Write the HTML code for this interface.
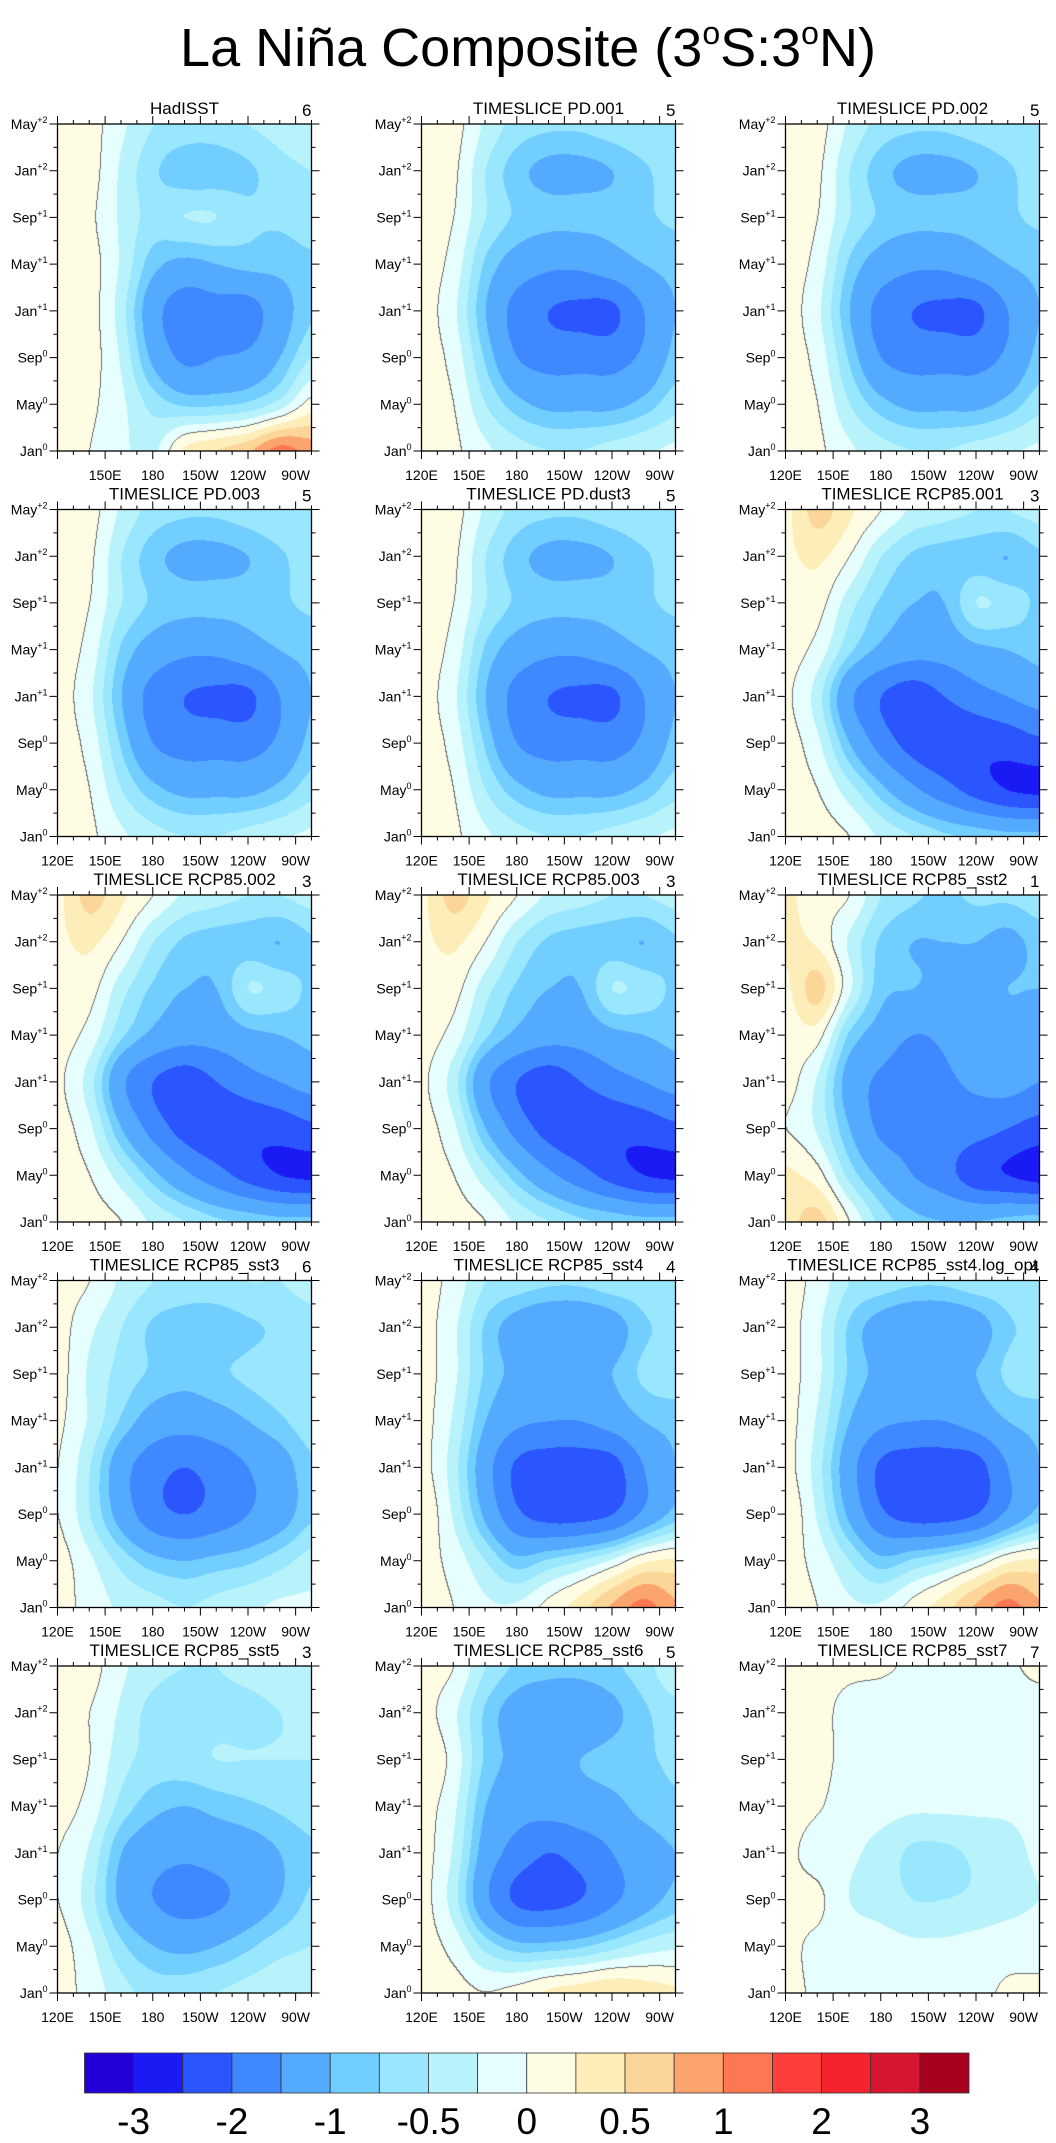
<!DOCTYPE html>
<html><head><meta charset="utf-8"><style>
html,body{margin:0;padding:0;background:#fff;}
#page{position:relative;width:1056px;height:2143px;overflow:hidden;font-family:"Liberation Sans",sans-serif;}
canvas{position:absolute;}
#axes{position:absolute;left:0;top:0;}
</style></head><body>
<div id="page">
<svg id="axes" width="1056" height="2143">
<text x="528" y="66" text-anchor="middle" font-size="54" font-family="Liberation Sans">La Niña Composite (3<tspan font-size="32" dy="-22">o</tspan><tspan dy="22">S:3</tspan><tspan font-size="32" dy="-22">o</tspan><tspan dy="22">N)</tspan></text>
</svg>
</div>
<script>
// level boundaries and colors
const levels=[-3,-2.5,-2,-1.5,-1,-0.75,-0.5,-0.25,0,0.25,0.5,0.75,1,1.5,2,2.5,3];
const colors=["#2200D8","#1A1AF5","#2B55FF","#3F88FF","#54AAFF","#72CEFF","#99E6FF","#B8F3FC","#E6FEFE","#FFFCE4","#FDEDB8","#FCD598","#FCA46E","#FC7752","#FC3E3A","#F52230","#D6162E","#A6001F"];
const cbLabels=["-3","-2","-1","-0.5","0","0.5","1","2","3"];
const lonTicks=[120,150,180,210,240,270];
const lonLabels=["120E","150E","180","150W","120W","90W"];
const monthTicks=[0,4,8,12,16,20,24,28];
const monthNames=["Jan","May","Sep","Jan","May","Sep","Jan","May"];
const monthSup=["0","0","0","+1","+1","+1","+2","+2"];
// grids: rows top (May+2) to bottom (Jan0); cols 120E,140E,160E,180,160W,140W,120W,100W,80W
const gHad=[
[0.1,0.1,-0.2,-0.5,-0.6,-0.6,-0.5,-0.4,-0.3],
[0.1,0.1,-0.3,-0.7,-0.9,-0.9,-0.8,-0.6,-0.5],
[0.1,0.05,-0.3,-0.6,-0.5,-0.5,-0.7,-0.7,-0.6],
[0.05,0.1,-0.3,-0.9,-1.1,-1.0,-0.9,-0.9,-0.8],
[0.05,0.1,-0.4,-1.3,-1.8,-1.7,-1.7,-1.2,-0.8],
[0.1,0.1,-0.3,-1.1,-1.6,-1.5,-1.4,-1.0,-0.5],
[0.1,0.05,-0.2,-0.6,-0.8,-0.8,-0.7,-0.4,0.1],
[0.05,0.0,-0.2,-0.3,0.3,0.5,0.7,1.1,0.9]];
const gPD=[
[0.1,0.1,-0.3,-0.6,-0.7,-0.7,-0.6,-0.5,-0.6],
[0.1,0.05,-0.5,-0.9,-1.1,-1.1,-1.0,-0.8,-0.6],
[0.1,0.0,-0.5,-0.8,-0.9,-0.9,-0.9,-0.8,-0.7],
[0.1,-0.1,-0.8,-1.2,-1.4,-1.4,-1.2,-1.0,-0.9],
[0.1,-0.2,-1.0,-1.7,-2.0,-2.1,-2.1,-1.5,-1.0],
[0.1,-0.1,-0.8,-1.5,-1.7,-1.7,-1.7,-1.4,-0.9],
[0.1,0.0,-0.5,-0.9,-1.1,-1.1,-1.1,-0.9,-0.6],
[0.1,0.05,-0.2,-0.4,-0.5,-0.5,-0.4,-0.3,-0.2]];
const gRCP=[
[0.2,0.6,0.3,0.0,-0.3,-0.4,-0.5,-0.5,-0.4],
[0.2,0.3,0.0,-0.5,-0.8,-0.9,-0.9,-1.0,-0.8],
[0.1,0.1,-0.4,-0.8,-1.0,-1.0,-0.5,-0.6,-0.8],
[0.1,-0.1,-0.7,-1.1,-1.3,-1.3,-1.1,-1.0,-0.9],
[0.05,-0.4,-1.4,-2.0,-2.3,-2.0,-1.7,-1.5,-1.3],
[0.1,-0.2,-1.0,-1.7,-2.2,-2.4,-2.4,-2.3,-2.1],
[0.1,0.0,-0.4,-0.9,-1.4,-1.8,-2.2,-2.5,-2.6],
[0.1,0.1,0.0,-0.3,-0.5,-0.7,-0.8,-0.9,-0.9]];
const gS2=[
[0.3,0.1,0.0,-0.5,-0.7,-0.8,-0.7,-0.7,-0.6],
[0.3,0.2,-0.3,-0.8,-1.0,-1.0,-1.0,-1.1,-0.9],
[0.2,0.6,-0.2,-0.9,-1.0,-1.1,-1.1,-1.0,-1.0],
[0.1,0.1,-0.8,-1.2,-1.5,-1.4,-1.1,-1.1,-1.3],
[0.1,-0.3,-1.2,-1.6,-1.8,-1.6,-1.4,-1.3,-1.5],
[0.0,-0.3,-1.0,-1.6,-1.7,-1.7,-1.8,-2.0,-2.2],
[0.3,0.1,-0.6,-1.1,-1.5,-1.8,-2.3,-2.5,-2.7],
[0.4,0.6,0.0,-0.6,-0.9,-1.0,-1.0,-0.9,-0.8]];
const gS3=[
[0.1,0.0,-0.3,-0.5,-0.6,-0.6,-0.5,-0.5,-0.4],
[0.1,-0.2,-0.5,-0.8,-0.9,-0.9,-0.8,-0.7,-0.6],
[0.1,-0.3,-0.6,-0.8,-0.9,-0.8,-0.7,-0.6,-0.5],
[0.05,-0.3,-0.8,-1.2,-1.3,-1.2,-1.0,-0.8,-0.6],
[0.0,-0.5,-1.3,-1.8,-2.0,-1.8,-1.5,-1.2,-0.8],
[0.0,-0.5,-1.2,-1.8,-2.0,-1.8,-1.5,-1.2,-0.8],
[0.1,-0.2,-0.6,-0.9,-1.0,-0.9,-0.8,-0.6,-0.4],
[0.1,-0.1,-0.3,-0.4,-0.5,-0.4,-0.3,-0.2,-0.2]];
const gS4=[
[0.1,-0.1,-0.5,-0.6,-0.7,-0.7,-0.6,-0.6,-0.5],
[0.1,-0.2,-0.8,-1.2,-1.4,-1.4,-1.2,-0.8,-0.7],
[0.1,-0.2,-0.8,-1.1,-1.2,-1.1,-1.0,-0.7,-0.6],
[0.1,-0.3,-1.0,-1.4,-1.5,-1.5,-1.3,-1.0,-0.9],
[0.1,-0.4,-1.3,-2.1,-2.3,-2.3,-2.2,-1.5,-1.0],
[0.2,-0.3,-1.1,-1.9,-2.2,-2.2,-2.0,-1.4,-0.9],
[0.1,-0.1,-0.5,-0.9,-0.7,-0.5,-0.2,0.2,0.3],
[0.1,0.0,-0.2,-0.2,0.1,0.4,0.8,1.1,0.8]];
const gS5=[
[0.1,0.1,-0.2,-0.4,-0.5,-0.5,-0.4,-0.3,-0.3],
[0.1,0.0,-0.3,-0.6,-0.7,-0.6,-0.6,-0.5,-0.4],
[0.2,0.0,-0.4,-0.6,-0.6,-0.5,-0.5,-0.5,-0.5],
[0.1,-0.1,-0.6,-0.9,-1.0,-0.9,-0.8,-0.7,-0.6],
[0.0,-0.3,-1.0,-1.3,-1.4,-1.3,-1.2,-1.0,-0.8],
[0.0,-0.4,-1.1,-1.5,-1.7,-1.6,-1.3,-1.0,-0.7],
[0.1,-0.2,-0.7,-1.0,-1.1,-1.0,-0.8,-0.6,-0.5],
[0.1,-0.1,-0.4,-0.6,-0.6,-0.5,-0.4,-0.3,-0.3]];
const gS6=[
[0.1,0.0,-0.5,-0.8,-0.9,-0.9,-0.8,-0.6,-0.3],
[0.1,-0.2,-0.8,-1.2,-1.3,-1.3,-1.1,-0.8,-0.6],
[0.2,-0.1,-0.8,-1.1,-1.1,-1.0,-0.9,-0.8,-0.7],
[0.1,-0.2,-1.0,-1.3,-1.3,-1.2,-1.1,-0.9,-0.8],
[0.1,-0.3,-1.2,-1.7,-2.0,-1.8,-1.5,-1.2,-1.0],
[0.1,-0.4,-1.4,-2.1,-2.2,-2.0,-1.6,-1.2,-0.9],
[0.1,-0.1,-0.6,-0.9,-0.9,-0.8,-0.6,-0.4,-0.3],
[0.1,0.1,0.0,0.1,0.3,0.4,0.5,0.4,0.3]];
const gS7=[
[0.1,0.05,0.03,0.02,-0.02,-0.03,-0.03,-0.03,0.05],
[0.1,0.05,-0.05,-0.08,-0.1,-0.1,-0.1,-0.1,-0.1],
[0.1,0.05,-0.05,-0.1,-0.1,-0.1,-0.1,-0.1,-0.1],
[0.1,0.02,-0.1,-0.15,-0.2,-0.2,-0.2,-0.2,-0.15],
[0.05,-0.1,-0.2,-0.35,-0.55,-0.55,-0.45,-0.35,-0.2],
[0.05,0.05,-0.25,-0.35,-0.5,-0.5,-0.45,-0.35,-0.25],
[0.05,-0.05,-0.1,-0.15,-0.2,-0.2,-0.15,-0.1,-0.1],
[0.05,-0.03,-0.05,-0.05,-0.05,-0.05,-0.05,0.03,0.05]];
const panelTitles=["HadISST","TIMESLICE PD.001","TIMESLICE PD.002","TIMESLICE PD.003","TIMESLICE PD.dust3","TIMESLICE RCP85.001","TIMESLICE RCP85.002","TIMESLICE RCP85.003","TIMESLICE RCP85_sst2","TIMESLICE RCP85_sst3","TIMESLICE RCP85_sst4","TIMESLICE RCP85_sst4.log_opt","TIMESLICE RCP85_sst5","TIMESLICE RCP85_sst6","TIMESLICE RCP85_sst7"];
const panelCounts=["6","5","5","5","5","3","3","3","1","6","4","4","3","5","7"];
const panelGrids=[gHad,gPD,gPD,gPD,gPD,gRCP,gRCP,gRCP,gS2,gS3,gS4,gS4,gS5,gS6,gS7];

const NS="http://www.w3.org/2000/svg";
const svg=document.getElementById('axes');
const page=document.getElementById('page');
const W=254,H=327,X0=57.5,Y0=124,DX=364,DY=385.5;
function hex(c){return [parseInt(c.substr(1,2),16),parseInt(c.substr(3,2),16),parseInt(c.substr(5,2),16)];}
const rgb=colors.map(hex);
function levelIdx(v){let i=0;while(i<levels.length&&v>=levels[i])i++;return i;}
function cr(p0,p1,p2,p3,t){return p1+0.5*t*(p2-p0+t*(2*p0-5*p1+4*p2-p3+t*(3*(p1-p2)+p3-p0)));}
function sample(g,u,v){
  const nr=g.length,nc=g[0].length;
  const i=Math.min(Math.floor(v),nr-2),j=Math.min(Math.floor(u),nc-2);
  const tv=v-i,tu=u-j;
  const r=k=>g[Math.max(0,Math.min(nr-1,k))];
  const row=k=>{const a=r(k);const c=m=>a[Math.max(0,Math.min(nc-1,m))];return cr(c(j-1),c(j),c(j+1),c(j+2),tu);};
  return cr(row(i-1),row(i),row(i+1),row(i+2),tv);
}
function mk(tag,attrs,parent){const e=document.createElementNS(NS,tag);for(const k in attrs)e.setAttribute(k,attrs[k]);(parent||svg).appendChild(e);return e;}
function lonX(px,lon){return px+(lon-120)/160*W;}
function monY(py,m){return py+H-m/28*H;}

panelGrids.forEach((g,p)=>{
  const col=p%3,row=Math.floor(p/3);
  const px=X0+col*DX,py=Y0+row*DY;
  const cv=document.createElement('canvas');
  
  
  cv.width=W;cv.height=H;cv.style.left=px+'px';cv.style.top=py+'px';
  page.insertBefore(cv,svg);
  const ctx=cv.getContext('2d');const img=ctx.createImageData(W,H);
  const nr=g.length,nc=g[0].length;
  const idx=new Int8Array(W*H);
  for(let y=0;y<H;y++)for(let x=0;x<W;x++){
    const v=sample(g,x/(W-1)*(nc-1),y/(H-1)*(nr-1));
    idx[y*W+x]=levelIdx(v);
  }
  for(let y=0;y<H;y++)for(let x=0;x<W;x++){
    const k=y*W+x;let c=rgb[idx[k]];
    const pos=idx[k]>=9;
    const r=x<W-1?idx[k+1]>=9:pos, d=y<H-1?idx[k+W]>=9:pos;
    if(pos!==r||pos!==d)c=[110,110,110];
    img.data[k*4]=c[0];img.data[k*4+1]=c[1];img.data[k*4+2]=c[2];img.data[k*4+3]=255;
  }
  ctx.putImageData(img,0,0);
  const grp=mk('g',{});
  
  
  const fr=mk('rect',{x:px,y:py,width:W,height:H,fill:'none',stroke:'#000','stroke-width':1.3},grp);
  
  
  let d='';
  for(let lon=120;lon<=280;lon+=10){const x=lonX(px,lon);if(x>px+W+0.5)break;const L=(lon%30===0)?8:4;d+=`M${x},${py+H}v${L}M${x},${py}v${-L}`;}
  for(let m=0;m<=28;m+=2){const y=monY(py,m);const L=(m%4===0)?8:4;d+=`M${px},${y}h${-L}M${px+W},${y}h${L}`;}
  const tk=mk('path',{d:d,stroke:'#000','stroke-width':1,fill:'none'},grp);
  
  
  lonTicks.forEach((lon,i)=>{
    if(p===0&&i===0)return;
    const t=mk('text',{x:lonX(px,lon),y:py+H+29,'text-anchor':'middle','font-size':14},grp);
    t.textContent=lonLabels[i];
    
    
  });
  monthTicks.forEach((m,i)=>{
    const t=mk('text',{x:px-10,y:monY(py,m)+5,'text-anchor':'end','font-size':14},grp);
    t.textContent=monthNames[i];
    const s=mk('tspan',{'font-size':9,dy:-6},t);s.textContent=monthSup[i];
    
    
  });
  const tt=mk('text',{x:px+W/2,y:py-10,'text-anchor':'middle','font-size':17},grp);
  tt.textContent=panelTitles[p];
  
  
  const tn=mk('text',{x:px+W,y:py-8,'text-anchor':'end','font-size':17},grp);
  tn.textContent=panelCounts[p];
  
  
});
// colorbar
const cbX=84.5,cbW=884.5,cbY=2053,cbH=40;
const bw=cbW/colors.length;
colors.forEach((c,i)=>{
  const r=mk('rect',{x:cbX+i*bw,y:cbY,width:bw,height:cbH,fill:c,stroke:'#333','stroke-width':0.8});
  
  
});
cbLabels.forEach((l,i)=>{
  const t=mk('text',{x:cbX+(2*i+1)*bw,y:2134,'text-anchor':'middle','font-size':37});
  t.textContent=l;
  
  
});
</script>
</body></html>
